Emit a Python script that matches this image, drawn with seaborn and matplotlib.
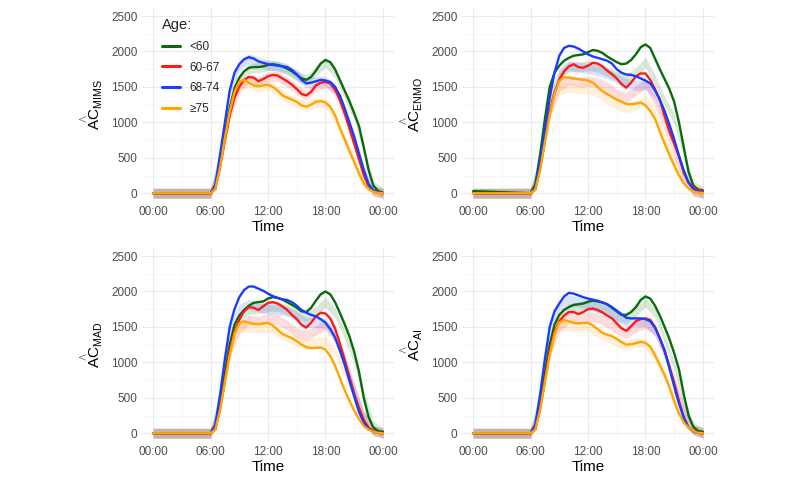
import numpy as np
import pandas as pd
import seaborn as sns
import matplotlib
matplotlib.use("Agg")
import matplotlib.pyplot as plt

# time grid (hours) for the fitted curves
hours = [0, 6, 6.5, 7, 7.5, 8, 8.5, 9, 9.5, 10, 10.5, 11, 11.5, 12, 12.5, 13, 13.5, 14, 14.5,
         15, 15.5, 16, 16.5, 17, 17.5, 18, 18.5, 19, 19.5, 20, 20.5, 21, 21.5, 22, 22.5, 23, 23.5, 24]
# coarser grid for the shaded bands
band_hours = [0, 6, 7, 8, 9, 10, 11, 12, 13, 14, 15, 16, 17, 18, 19, 20, 21, 22, 23, 24]
band_half = 70

age_groups = ["<60", "60-67", "68-74", "\u226575"]
palette = {"<60": "#0a6b0a", "60-67": "#ff1a1a", "68-74": "#1a3cff", "\u226575": "#ffa500"}

mims_lt60 = [0, 0, 80, 450, 850, 1200, 1480, 1630, 1720, 1770, 1780, 1780, 1790, 1810, 1820, 1810, 1790, 1760, 1720,
             1670, 1620, 1600, 1640, 1730, 1830, 1880, 1850, 1750, 1600, 1450, 1300, 1130, 950, 650, 330, 110, 30, 10]
mims_6067 = [0, 0, 60, 380, 750, 1100, 1350, 1500, 1600, 1640, 1630, 1580, 1610, 1650, 1670, 1660, 1620, 1580, 1530,
             1470, 1400, 1380, 1430, 1520, 1560, 1570, 1550, 1460, 1320, 1130, 920, 700, 480, 260, 100, 30, 10, 0]
mims_6874 = [0, 0, 120, 550, 1000, 1450, 1700, 1820, 1890, 1920, 1900, 1860, 1840, 1820, 1810, 1800, 1790, 1780, 1740,
             1680, 1600, 1550, 1560, 1580, 1600, 1590, 1570, 1500, 1380, 1200, 1000, 800, 560, 330, 130, 40, 10, 0]
mims_ge75 = [0, 0, 60, 370, 780, 1150, 1430, 1570, 1600, 1560, 1520, 1510, 1520, 1530, 1500, 1450, 1380, 1350, 1320,
             1290, 1240, 1220, 1250, 1290, 1300, 1280, 1220, 1100, 920, 760, 600, 440, 280, 140, 60, 20, 5, 0]

enmo_lt60 = [30, 0, 120, 550, 1050, 1500, 1700, 1800, 1870, 1910, 1940, 1950, 1960, 1990, 2020, 2010, 1980, 1930, 1890,
             1850, 1820, 1830, 1880, 1960, 2060, 2100, 2050, 1900, 1750, 1610, 1470, 1290, 1000, 650, 300, 110, 50, 40]
enmo_6067 = [0, 0, 50, 350, 750, 1150, 1420, 1600, 1720, 1790, 1820, 1780, 1770, 1800, 1840, 1830, 1790, 1730, 1680,
             1620, 1540, 1490, 1560, 1650, 1690, 1690, 1600, 1470, 1320, 1090, 870, 700, 520, 290, 150, 80, 40, 30]
enmo_6874 = [0, 0, 80, 450, 900, 1350, 1700, 1940, 2050, 2080, 2070, 2040, 2000, 1960, 1930, 1910, 1890, 1870, 1830,
             1750, 1700, 1675, 1670, 1650, 1620, 1590, 1550, 1450, 1320, 1160, 970, 760, 530, 320, 150, 60, 25, 20]
enmo_ge75 = [0, 0, 50, 330, 720, 1100, 1400, 1580, 1640, 1630, 1620, 1610, 1600, 1590, 1560, 1500, 1440, 1400, 1360,
             1320, 1290, 1260, 1255, 1265, 1280, 1240, 1160, 1050, 870, 700, 540, 390, 250, 140, 70, 25, 10, 5]

mad_lt60 = [0, 0, 80, 450, 850, 1250, 1530, 1660, 1740, 1800, 1840, 1850, 1860, 1900, 1920, 1910, 1885, 1850, 1810,
            1770, 1720, 1710, 1770, 1870, 1960, 2000, 1960, 1850, 1700, 1540, 1370, 1150, 870, 500, 230, 80, 30, 20]
mad_6067 = [0, 0, 50, 350, 750, 1150, 1420, 1600, 1720, 1780, 1770, 1740, 1790, 1840, 1850, 1830, 1790, 1740, 1670,
            1610, 1530, 1490, 1560, 1650, 1700, 1690, 1620, 1480, 1270, 1040, 800, 560, 360, 190, 80, 30, 5, 0]
mad_6874 = [0, 0, 120, 550, 1050, 1500, 1750, 1920, 2020, 2070, 2070, 2040, 2010, 1970, 1935, 1910, 1890, 1880, 1850,
            1800, 1740, 1700, 1670, 1650, 1610, 1560, 1470, 1350, 1170, 970, 740, 520, 300, 150, 60, 20, 5, 0]
mad_ge75 = [0, 0, 50, 330, 720, 1100, 1400, 1550, 1580, 1560, 1545, 1540, 1550, 1560, 1520, 1460, 1400, 1370, 1340,
            1300, 1250, 1215, 1200, 1205, 1210, 1180, 1090, 950, 780, 610, 460, 320, 200, 100, 50, 20, 5, 0]

ai_lt60 = [0, 0, 80, 450, 850, 1250, 1530, 1670, 1740, 1780, 1810, 1820, 1830, 1855, 1870, 1860, 1845, 1820, 1770,
           1720, 1670, 1670, 1710, 1780, 1880, 1930, 1900, 1800, 1660, 1500, 1330, 1130, 900, 550, 250, 90, 30, 20]
ai_6067 = [0, 0, 50, 350, 750, 1150, 1420, 1580, 1660, 1710, 1710, 1680, 1710, 1750, 1760, 1740, 1705, 1660, 1620,
           1550, 1480, 1445, 1510, 1580, 1610, 1620, 1600, 1500, 1340, 1160, 940, 710, 450, 230, 80, 25, 5, 0]
ai_6874 = [0, 0, 120, 550, 1050, 1500, 1720, 1830, 1930, 1980, 1970, 1945, 1920, 1900, 1885, 1870, 1845, 1820, 1780,
           1730, 1680, 1630, 1620, 1620, 1620, 1610, 1580, 1490, 1340, 1170, 920, 660, 420, 220, 80, 25, 5, 0]
ai_ge75 = [0, 0, 50, 330, 720, 1100, 1400, 1560, 1600, 1580, 1560, 1550, 1555, 1560, 1520, 1470, 1415, 1390, 1370,
           1330, 1285, 1250, 1255, 1270, 1290, 1275, 1220, 1100, 960, 820, 650, 450, 280, 150, 80, 30, 5, 0]

# band centres (hourly)
mims_band = {
    "<60": [0, 0, 450, 1200, 1600, 1760, 1770, 1800, 1800, 1740, 1660, 1600, 1720, 1850, 1700, 1400, 1100, 600, 100, 10],
    "60-67": [0, 0, 380, 1100, 1480, 1620, 1570, 1640, 1650, 1570, 1460, 1380, 1510, 1560, 1440, 1120, 690, 250, 30, 0],
    "68-74": [0, 0, 550, 1430, 1800, 1900, 1850, 1810, 1790, 1760, 1670, 1550, 1580, 1580, 1480, 1180, 780, 320, 40, 0],
    "\u226575": [0, 0, 370, 1130, 1550, 1540, 1500, 1520, 1440, 1340, 1280, 1220, 1280, 1270, 1090, 750, 430, 140, 20, 0],
}
enmo_band = {
    "<60": [0, 0, 420, 1250, 1650, 1780, 1780, 1800, 1780, 1720, 1650, 1600, 1700, 1850, 1600, 1300, 1050, 550, 100, 20],
    "60-67": [0, 0, 380, 1150, 1500, 1600, 1570, 1580, 1560, 1500, 1400, 1350, 1450, 1550, 1300, 950, 580, 230, 30, 0],
    "68-74": [0, 0, 500, 1350, 1700, 1800, 1780, 1760, 1730, 1690, 1620, 1550, 1520, 1530, 1400, 1050, 700, 300, 40, 0],
    "\u226575": [0, 0, 360, 1100, 1450, 1500, 1480, 1480, 1420, 1330, 1260, 1200, 1250, 1300, 1150, 750, 450, 180, 20, 0],
}
mad_band = {
    "<60": [0, 0, 420, 1250, 1620, 1750, 1760, 1780, 1790, 1740, 1680, 1640, 1720, 1850, 1700, 1400, 1050, 550, 100, 10],
    "60-67": [0, 0, 380, 1150, 1480, 1600, 1580, 1620, 1600, 1520, 1420, 1380, 1450, 1520, 1350, 1000, 620, 240, 30, 0],
    "68-74": [0, 0, 550, 1450, 1750, 1820, 1780, 1750, 1740, 1720, 1650, 1560, 1560, 1550, 1400, 1050, 650, 250, 40, 0],
    "\u226575": [0, 0, 360, 1100, 1480, 1500, 1480, 1500, 1430, 1360, 1300, 1250, 1280, 1300, 1150, 850, 550, 220, 40, 0],
}
ai_band = {
    "<60": [0, 0, 450, 1250, 1620, 1760, 1780, 1810, 1790, 1730, 1650, 1620, 1720, 1850, 1700, 1330, 950, 450, 80, 10],
    "60-67": [0, 0, 380, 1150, 1500, 1620, 1600, 1650, 1630, 1560, 1470, 1400, 1500, 1550, 1450, 1150, 750, 350, 60, 0],
    "68-74": [0, 0, 550, 1450, 1800, 1880, 1850, 1820, 1780, 1730, 1650, 1570, 1580, 1570, 1440, 1120, 700, 300, 40, 0],
    "\u226575": [0, 0, 370, 1120, 1520, 1520, 1500, 1510, 1420, 1360, 1290, 1240, 1280, 1270, 1100, 820, 520, 220, 40, 0],
}

panels = [
    ("MIMS", [mims_lt60, mims_6067, mims_6874, mims_ge75], mims_band),
    ("ENMO", [enmo_lt60, enmo_6067, enmo_6874, enmo_ge75], enmo_band),
    ("MAD", [mad_lt60, mad_6067, mad_6874, mad_ge75], mad_band),
    ("AI", [ai_lt60, ai_6067, ai_6874, ai_ge75], ai_band),
]

x_ticks = [0, 6, 12, 18, 24]
x_labels = ["00:00", "06:00", "12:00", "18:00", "00:00"]
y_ticks = [0, 500, 1000, 1500, 2000, 2500]

sns.set_theme(style="white")
plt.rcParams["font.family"] = ["Liberation Sans", "DejaVu Sans"]
plt.rcParams["mathtext.fontset"] = "custom"
plt.rcParams["mathtext.rm"] = "Liberation Sans"
plt.rcParams["mathtext.it"] = "Liberation Sans:italic"

fig = plt.figure(figsize=(8, 4.8), dpi=100)
positions = [(0.177, 0.579), (0.577, 0.579), (0.177, 0.079), (0.577, 0.079)]

for i, (name, series, bands) in enumerate(panels):
    ax = fig.add_axes([positions[i][0], positions[i][1], 0.316, 0.406])
    ax.set_facecolor("white")
    ax.set_axisbelow(True)
    ax.set_xticks([3, 9, 15, 21], minor=True)
    ax.set_yticks([250, 750, 1250, 1750, 2250], minor=True)
    ax.grid(which="major", color="#ebebeb", linewidth=0.8)
    ax.grid(which="minor", color="#f4f4f4", linewidth=0.5)

    for grp in age_groups:
        b = np.array(bands[grp])
        ax.fill_between(band_hours, b - band_half, b + band_half,
                        color=palette[grp], alpha=0.15, linewidth=0)

    df = pd.DataFrame({
        "hour": np.tile(hours, len(age_groups)),
        "value": np.concatenate(series),
        "Age": np.repeat(age_groups, len(hours)),
    })
    sns.lineplot(data=df, x="hour", y="value", hue="Age", hue_order=age_groups,
                 palette=palette, linewidth=1.7, ax=ax, legend=(i == 0))

    ax.set_xlim(-1.2, 25.2)
    ax.set_ylim(-125, 2625)
    ax.set_xticks(x_ticks)
    ax.set_xticklabels(x_labels)
    ax.set_yticks(y_ticks)
    ax.tick_params(axis="both", which="both", length=0, labelsize=8.5,
                   labelcolor="#4d4d4d", pad=3)
    for s in ax.spines.values():
        s.set_visible(False)
    ax.set_xlabel("Time", fontsize=11, color="black", labelpad=1)
    ax.set_ylabel(r"$\overset{\wedge}{\mathrm{AC}}_{\mathrm{" + name + "}}$", fontsize=11,
                  color="black", labelpad=4)

    if i == 0:
        leg = ax.legend(title="Age:", loc="upper left", bbox_to_anchor=(0.04, 1.0),
                        frameon=False, fontsize=8.5, title_fontsize=10.5,
                        handlelength=1.5, labelspacing=0.75)
        for ln in leg.get_lines():
            ln.set_linewidth(2.2)
        leg._legend_box.align = "left"

fig.savefig("out.png", dpi=100)
